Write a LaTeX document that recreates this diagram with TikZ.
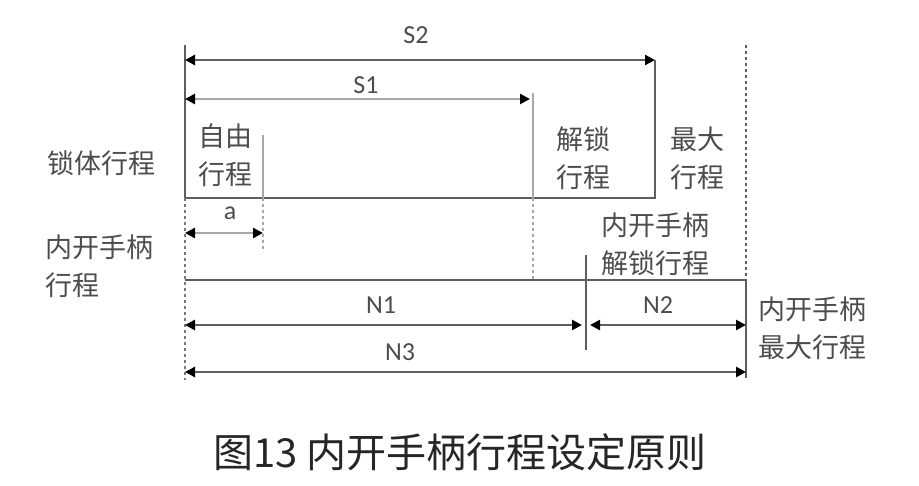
\documentclass[tikz,border=0pt]{standalone}
\usepackage{fontspec}
\newfontfamily\cjk{Noto Sans CJK SC}
\newfontfamily\lat{Carlito}
\usetikzlibrary{arrows.meta}
\definecolor{darkline}{HTML}{5E5E5E}
\definecolor{lightline}{HTML}{A8A8A8}
\definecolor{dotline}{HTML}{7A7A7A}
\definecolor{textgray}{HTML}{4D4D4D}
\tikzset{
  solidline/.style={draw=darkline, line width=2.8pt},
  paleline/.style={draw=lightline, line width=2.8pt},
  dotted line/.style={draw=dotline, line width=2pt, dash pattern=on 3pt off 3pt},
  dimarrow/.style={solidline, {Triangle[length=10pt,width=10pt,color=black]}-{Triangle[length=10pt,width=10pt,color=black]}},
  paledim/.style={paleline, {Triangle[length=10pt,width=10pt,color=black]}-{Triangle[length=10pt,width=10pt,color=black]}},
  lab/.style={font=\cjk\fontsize{27}{38}\selectfont, text=textgray, align=center, inner sep=0pt},
  num/.style={font=\lat\fontsize{26}{30}\selectfont, text=textgray, inner sep=0pt},
}
\begin{document}
\begin{tikzpicture}[x=1pt,y=-1pt]
\useasboundingbox[fill=white] (0,0) rectangle (919,485);
% key points
\coordinate (Ltop) at (185,45);
\coordinate (Lbox) at (185,198);
\coordinate (Lbot) at (185,380);
\coordinate (S2a) at (185,60);
\coordinate (S2b) at (655,60);
\coordinate (Rbox) at (655,198);
\coordinate (S1a) at (185,99);
\coordinate (S1b) at (530,99);
\coordinate (U1) at (533,93);
\coordinate (U2) at (533,198);
\coordinate (U3) at (533,280);
\coordinate (F1) at (263,135);
\coordinate (F2) at (263,198);
\coordinate (F3) at (263,252);
\coordinate (Aa) at (185,233);
\coordinate (Ab) at (263,233);
\coordinate (M1) at (746,45);
\coordinate (M2) at (746,280);
\coordinate (M3) at (746,378);
\coordinate (H1) at (185,280);
\coordinate (K1) at (586,255);
\coordinate (K2) at (586,350);
\coordinate (N1a) at (185,325);
\coordinate (N1b) at (582,325);
\coordinate (N2a) at (590,325);
\coordinate (N2b) at (746,325);
\coordinate (N3a) at (185,372);
\coordinate (N3b) at (746,372);

% lock body travel box
\draw[solidline] (Ltop) -- (Lbox) -- (Rbox) -- (S2b);
\draw[dotted line] (Lbox) -- (Lbot);
\draw[dimarrow] (S2a) -- (S2b);
\draw[paledim] (S1a) -- (S1b);
\draw[paleline] (U1) -- (U2);
\draw[dotted line, draw=lightline] (U2) -- (U3);
\draw[paleline] (F1) -- (F2);
\draw[dotted line, draw=lightline] (F2) -- (F3);
\draw[paledim] (Aa) -- (Ab);
% handle travel
\draw[dotted line, draw=darkline] (M1) -- (M2);
\draw[solidline] (H1) -- (M2) -- (M3);
\draw[solidline] (K1) -- (K2);
\draw[dimarrow] (N1a) -- (N1b);
\draw[dimarrow] (N2a) -- (N2b);
\draw[dimarrow] (N3a) -- (N3b);

% labels
\node[num] (tS2) at (416,35) {S2};
\node[num] (tS1) at (366,85) {S1};
\node[num] (ta) at (230,213) {a};
\node[num] (tN1) at (381,305) {N1};
\node[num] (tN2) at (658,305) {N2};
\node[num] (tN3) at (400,352) {N3};
\node[lab] (t1) at (101,163) {锁体行程};
\node[lab] (t2) at (225,155) {自由\\行程};
\node[lab] (t3) at (583,158) {解锁\\行程};
\node[lab] (t4) at (697,158) {最大\\行程};
\node[lab, align=left, anchor=west] (t5) at (45,266) {内开手柄\\行程};
\node[lab] (t6) at (655,244) {内开手柄\\解锁行程};
\node[lab] (t7) at (812,328) {内开手柄\\最大行程};
\node[font=\cjk\fontsize{40}{46}\selectfont, text=black!85, inner sep=0pt] (cap) at (460,452) {图13 内开手柄行程设定原则};
\end{tikzpicture}
\end{document}
